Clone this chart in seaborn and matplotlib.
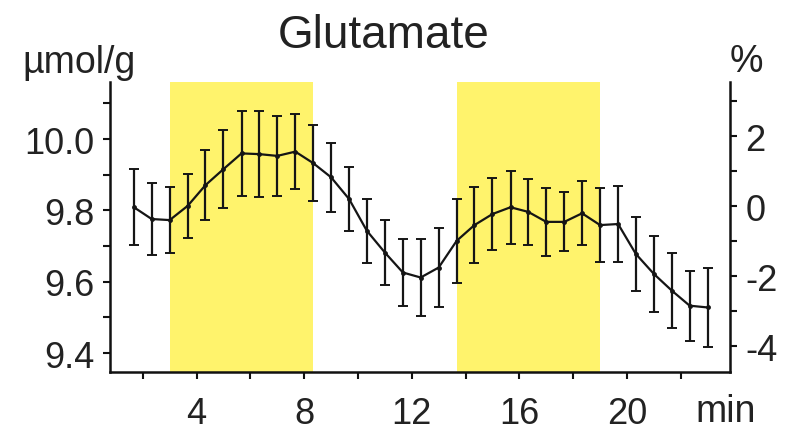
import matplotlib
matplotlib.use("Agg")
import matplotlib.pyplot as plt
import seaborn as sns
import pandas as pd

sns.set_theme(style="ticks")
plt.rcParams['font.family'] = ['Liberation Sans', 'DejaVu Sans']
plt.rcParams['axes.unicode_minus'] = False

# Data
time_min = [1.67, 2.33, 3.00, 3.67, 4.33, 5.00, 5.67, 6.33, 7.00, 7.67, 8.33,
            9.00, 9.67, 10.33, 11.00, 11.67, 12.33, 13.00, 13.67, 14.33, 15.00,
            15.67, 16.33, 17.00, 17.67, 18.33, 19.00, 19.67, 20.33, 21.00,
            21.67, 22.33, 23.00]
glutamate = [9.809, 9.776, 9.773, 9.813, 9.871, 9.916, 9.960, 9.958, 9.953,
             9.965, 9.933, 9.893, 9.832, 9.743, 9.682, 9.626, 9.612, 9.640,
             9.715, 9.759, 9.790, 9.809, 9.796, 9.768, 9.768, 9.792, 9.759,
             9.762, 9.678, 9.622, 9.575, 9.533, 9.528]
sem = [0.107, 0.100, 0.092, 0.089, 0.099, 0.110, 0.120, 0.120, 0.113, 0.105,
       0.106, 0.096, 0.090, 0.089, 0.091, 0.094, 0.109, 0.110, 0.118, 0.107,
       0.100, 0.103, 0.092, 0.096, 0.083, 0.090, 0.103, 0.107, 0.103, 0.107,
       0.105, 0.098, 0.112]
stim_start = [3.0, 13.67]
stim_end = [8.33, 19.0]
baseline = 9.812  # value taken as 0 %

df = pd.DataFrame({"t": time_min, "glu": glutamate, "sem": sem})

fig = plt.figure(figsize=(7.98, 4.35), dpi=100)
ax = fig.add_axes([0.1378, 0.1425, 0.777, 0.6665])

for s, e in zip(stim_start, stim_end):
    ax.axvspan(s, e, color="#fff36c", lw=0, zorder=0)

ax.errorbar(df["t"], df["glu"], yerr=df["sem"], fmt="none", ecolor="#151515",
            elinewidth=1.6, capsize=3.5, capthick=1.4, zorder=2)
sns.lineplot(data=df, x="t", y="glu", ax=ax, color="#151515", lw=1.6,
             marker="o", markersize=3.5, markeredgewidth=0, zorder=3)

ax.set_xlim(0.78, 23.83)
ax.set_ylim(9.347, 10.160)
ax.set_xlabel("")
ax.set_ylabel("")

ax.set_xticks([4, 8, 12, 16, 20])
ax.set_xticks([2, 6, 10, 14, 18, 22], minor=True)
ax.set_yticks([9.4, 9.6, 9.8, 10.0])
ax.set_yticklabels(["9.4", "9.6", "9.8", "10.0"])
ax.set_yticks([9.5, 9.7, 9.9, 10.1], minor=True)

for side in ["top", "right"]:
    ax.spines[side].set_visible(False)
for side in ["left", "bottom"]:
    ax.spines[side].set_linewidth(1.8)
    ax.spines[side].set_color("#111111")

ax.tick_params(which="both", direction="out", length=5, width=1.5,
               color="#111111", labelsize=26, labelcolor="#222222", pad=6)
ax.tick_params(axis="x", which="both", pad=12)

sec = ax.secondary_yaxis("right",
                         functions=(lambda v: (v / baseline - 1) * 100,
                                    lambda p: baseline * (1 + p / 100)))
sec.set_yticks([-4, -2, 0, 2])
sec.set_yticklabels(["-4", "-2", "0", "2"])
sec.set_yticks([-3, -1, 1, 3], minor=True)
sec.spines["right"].set_linewidth(1.8)
sec.spines["right"].set_color("#111111")
sec.tick_params(which="both", direction="out", length=5, width=1.5,
                color="#111111", labelsize=26, labelcolor="#222222", pad=6)

fig.text(384 / 798, 1 - 48 / 435, "Glutamate", ha="center", va="baseline",
         fontsize=33, color="#222222")
fig.text(22 / 798, 1 - 73 / 435, "\u00b5mol/g", ha="left", va="baseline",
         fontsize=27, color="#222222")
fig.text(730 / 798, 1 - 72 / 435, "%", ha="left", va="baseline",
         fontsize=27, color="#222222")
fig.text(695 / 798, 1 - 422 / 435, "min", ha="left", va="baseline",
         fontsize=27, color="#222222")

fig.savefig("out.png", dpi=100)
